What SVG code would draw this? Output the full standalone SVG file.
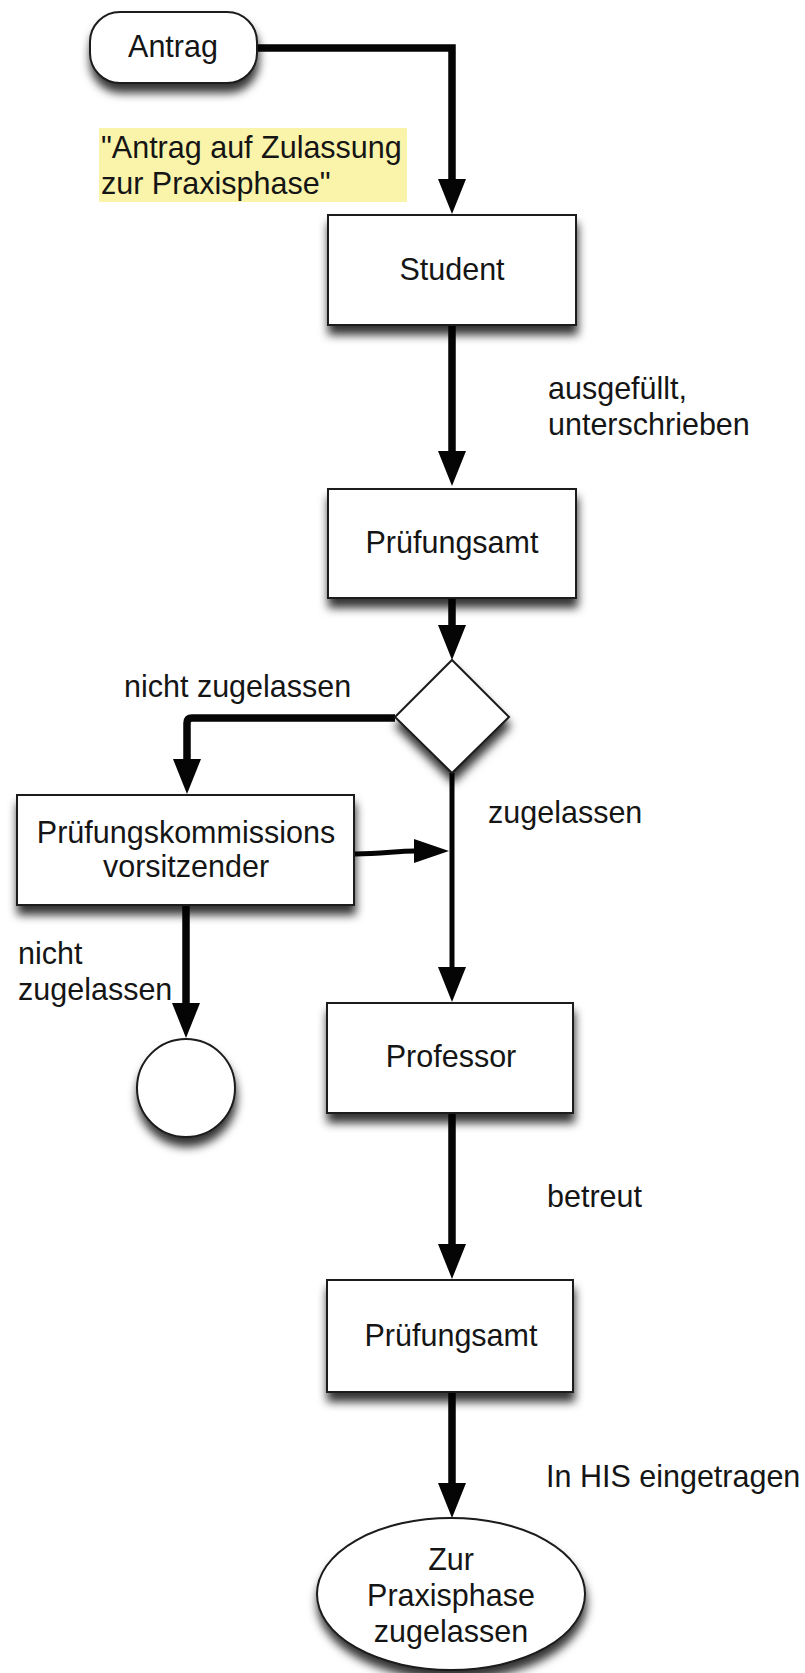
<svg xmlns="http://www.w3.org/2000/svg" width="805" height="1673" viewBox="0 0 805 1673">
<style>
  text { font-family: "Liberation Sans", Arial, sans-serif; font-size: 30.5px; fill: #151515; }
  .c { text-anchor: middle; }
  .node { fill: #ffffff; stroke: #1a1a1a; stroke-width: 2; filter: url(#sh); }
  .thick { fill: none; stroke: #050505; stroke-width: 7.5; marker-end: url(#ah); }
  .thin { fill: none; stroke: #050505; stroke-width: 5; marker-end: url(#ah); }
  .note { fill: #faf4aa; }
</style>
<defs>
  <filter id="sh" x="-20%" y="-20%" width="140%" height="160%">
    <feDropShadow dx="1" dy="9" stdDeviation="5" flood-color="#000" flood-opacity="0.8"/>
  </filter>
  <marker id="ah" markerUnits="userSpaceOnUse" markerWidth="36" markerHeight="30" viewBox="0 0 36 30" refX="1" refY="15" orient="auto">
    <path d="M0,1 L35,15 L0,29 z" fill="#050505"/>
  </marker>
  <marker id="ahs" markerUnits="userSpaceOnUse" markerWidth="36" markerHeight="26" viewBox="0 0 36 26" refX="1" refY="13" orient="auto">
    <path d="M0,1 L35,13 L0,25 z" fill="#050505"/>
  </marker>
</defs>
<rect id="note" class="note" x="99" y="128" width="308" height="74"/>
<text x="101" y="158">"Antrag auf Zulassung</text>
<text x="101" y="194">zur Praxisphase"</text>
<g id="connectors">
  <path class="thick" d="M257,48 H452 V180" stroke-linejoin="miter"/>
  <path class="thick" d="M452,325 V452"/>
  <path class="thick" d="M452,598 V626"/>
  <path class="thick" d="M395,718 H192 Q187,718 187,723 V760" stroke-linejoin="round"/>
  <path class="thin" d="M452,773 V968"/>
  <path d="M355,854 C382,854 396,851 415,851" fill="none" stroke="#050505" stroke-width="5" marker-end="url(#ahs)"/>
  <path class="thick" d="M186,905 V1004"/>
  <path class="thick" d="M452,1113 V1245"/>
  <path class="thick" d="M452,1392 V1484"/>
</g>
<g id="n-antrag">
  <rect class="node" x="90" y="12" width="167" height="71" rx="30" ry="30"/>
  <text class="c" x="173" y="57">Antrag</text>
</g>
<g id="n-student">
  <rect class="node" x="328" y="215" width="248" height="110"/>
  <text class="c" x="452" y="280">Student</text>
</g>
<g id="n-pa1">
  <rect class="node" x="328" y="489" width="248" height="109"/>
  <text class="c" x="452" y="553">Prüfungsamt</text>
</g>
<g id="n-decision">
  <polygon class="node" points="452,660 509,717 452,773 395,717"/>
</g>
<g id="n-pkv">
  <rect class="node" x="17" y="795" width="337" height="110"/>
  <text class="c" x="186" y="843">Prüfungskommissions</text>
  <text class="c" x="186" y="877">vorsitzender</text>
</g>
<g id="n-end">
  <circle class="node" cx="186" cy="1088" r="49"/>
</g>
<g id="n-prof">
  <rect class="node" x="327" y="1003" width="246" height="110"/>
  <text class="c" x="451" y="1067">Professor</text>
</g>
<g id="n-pa2">
  <rect class="node" x="327" y="1280" width="246" height="112"/>
  <text class="c" x="451" y="1346">Prüfungsamt</text>
</g>
<g id="n-final">
  <ellipse class="node" cx="451" cy="1594" rx="134" ry="76"/>
  <text class="c" x="451" y="1570">Zur</text>
  <text class="c" x="451" y="1606">Praxisphase</text>
  <text class="c" x="451" y="1642">zugelassen</text>
</g>
<g id="labels">
  <text x="548" y="399">ausgefüllt,</text>
  <text x="548" y="435">unterschrieben</text>
  <text x="124" y="697">nicht zugelassen</text>
  <text x="488" y="823">zugelassen</text>
  <text x="18" y="964">nicht</text>
  <text x="18" y="1000">zugelassen</text>
  <text x="547" y="1207">betreut</text>
  <text x="546" y="1487">In HIS eingetragen</text>
</g>
</svg>
